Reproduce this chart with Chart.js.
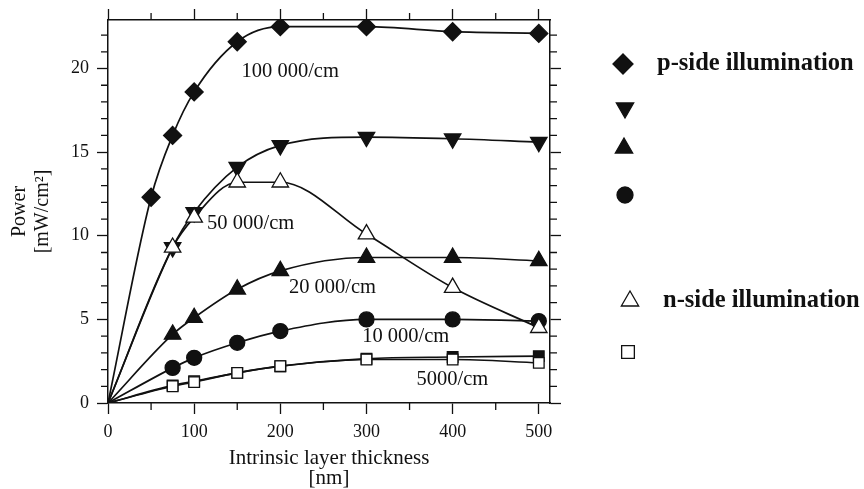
<!DOCTYPE html>
<html>
<head>
<meta charset="utf-8">
<script src="https://cdn.jsdelivr.net/npm/chart.js@4"></script>
<style>
  html, body { margin: 0; padding: 0; background: #fff; }
  canvas { display: block; }
</style>
</head>
<body>
<canvas id="chart" width="864" height="489"></canvas>
<script>
'use strict';
        // толщина i-слоя, нм
        const thickWide = [0, 50, 75, 100, 150, 200, 300, 400, 500];
        const thick = [0, 75, 100, 150, 200, 300, 400, 500];

        // p-side illumination
        const p100k = [0, 12.3, 16.0, 18.6, 21.6, 22.5, 22.5, 22.2, 22.1];
        const p50k = [0, 9.3, 11.4, 14.1, 15.4, 15.9, 15.8, 15.6];
        const p20k = [0, 4.1, 5.1, 6.8, 7.9, 8.7, 8.7, 8.5];
        const p10k = [0, 2.1, 2.7, 3.6, 4.3, 5.0, 5.0, 4.9];
        const p5k = [0, 1.05, 1.3, 1.8, 2.2, 2.65, 2.75, 2.8];

        // n-side illumination
        const n50k = [0, 9.3, 11.1, 13.2, 13.2, 10.1, 6.9, 4.5];
        const n5k = [0, 1.0, 1.25, 1.8, 2.2, 2.6, 2.6, 2.4];

        const xTicks = [0, 100, 200, 300, 400, 500];
        const yTicks = [0, 5, 10, 15, 20];
        const xMinor = [50, 150, 250, 350, 450];
        const yMinor = [1, 2, 3, 4, 6, 7, 8, 9, 11, 12, 13, 14, 16, 17, 18, 19, 21, 22];

        const legendLabels = ['p-side illumination', '', '', '', 'n-side illumination', ''];
        const curveLabels = ['100 000/cm', '50 000/cm', '20 000/cm', '10 000/cm', '5000/cm'];
        const curveLabelPos = [[155, 19.8], [115, 10.7], [210, 6.9], [295, 3.95], [358, 1.4]];

        const SERIF = '"Liberation Serif", "DejaVu Serif", serif';
        const INK = '#111';

        const pts = (xs, ys) => xs.map((x, i) => ({ x: x, y: ys[i] }));
        const hideFirst = r => (ctx => ctx.dataIndex === 0 ? 0 : r);

        function series(xs, ys, style, r, fill, rot, order) {
            return {
                data: pts(xs, ys),
                borderColor: INK,
                borderWidth: 1.7,
                pointStyle: style,
                pointRadius: hideFirst(r),
                pointHoverRadius: hideFirst(r),
                pointRotation: rot,
                pointBackgroundColor: fill,
                pointBorderColor: INK,
                pointBorderWidth: 1.3,
                cubicInterpolationMode: 'monotone',
                fill: false,
                order: order
            };
        }

        const datasets = [
            series(thickWide, p100k, 'rectRot', 9, INK, 0, 5),
            series(thick, p50k, 'triangle', 9.5, INK, 180, 6),
            series(thick, p20k, 'triangle', 9.5, INK, 0, 4),
            series(thick, p10k, 'circle', 7.5, INK, 0, 3),
            series(thick, n50k, 'triangle', 9.5, '#fff', 0, 1),
            series(thick, n5k, 'rect', 7.5, '#fff', 0, 2),
            series(thick, p5k, 'rect', 7.5, INK, 0, 7)
        ];

        // малые деления на всех четырёх осях
        const minorTicks = {
            id: 'minorTicks',
            afterDraw(chart) {
                const c = chart.ctx, a = chart.chartArea, s = chart.scales;
                const len = 7;
                c.save();
                c.strokeStyle = INK;
                c.lineWidth = 1.3;
                c.beginPath();
                xMinor.forEach(v => {
                    const px = s.x.getPixelForValue(v);
                    c.moveTo(px, a.bottom); c.lineTo(px, a.bottom + len);
                    c.moveTo(px, a.top); c.lineTo(px, a.top - len);
                });
                yMinor.forEach(v => {
                    const py = s.y.getPixelForValue(v);
                    c.moveTo(a.left, py); c.lineTo(a.left - len, py);
                    c.moveTo(a.right, py); c.lineTo(a.right + len, py);
                });
                c.stroke();
                c.restore();
            }
        };

        // подписи кривых
        const curveText = {
            id: 'curveText',
            afterDatasetsDraw(chart) {
                const c = chart.ctx, s = chart.scales;
                c.save();
                c.fillStyle = INK;
                c.font = '20.5px ' + SERIF;
                c.textBaseline = 'middle';
                c.textAlign = 'left';
                curveLabels.forEach((t, i) => {
                    const p = curveLabelPos[i];
                    c.fillText(t, s.x.getPixelForValue(p[0]), s.y.getPixelForValue(p[1]));
                });
                c.restore();
            }
        };

        // легенда справа
        const sideLegend = {
            id: 'sideLegend',
            afterDraw(chart) {
                const c = chart.ctx;
                const rows = [
                    { ds: 0, x: 623, y: 64, r: 10, tx: 657 },
                    { ds: 1, x: 625, y: 108, r: 10, tx: 657 },
                    { ds: 2, x: 624, y: 148, r: 10, tx: 657 },
                    { ds: 3, x: 625, y: 195, r: 8, tx: 657 },
                    { ds: 4, x: 630, y: 301, r: 10, tx: 663 },
                    { ds: 5, x: 628, y: 352, r: 9, tx: 663 }
                ];
                c.save();
                rows.forEach((r, i) => {
                    const d = datasets[r.ds];
                    c.fillStyle = d.pointBackgroundColor;
                    c.strokeStyle = INK;
                    c.lineWidth = 1.3;
                    Chart.helpers.drawPoint(c, {
                        pointStyle: d.pointStyle,
                        radius: r.r,
                        rotation: d.pointRotation,
                        borderWidth: 1.3
                    }, r.x, r.y);
                    if (legendLabels[i]) {
                        c.fillStyle = INK;
                        c.font = 'bold 24.5px ' + SERIF;
                        c.textBaseline = 'middle';
                        c.textAlign = 'left';
                        c.fillText(legendLabels[i], r.tx, r.y);
                    }
                });
                c.restore();
            }
        };

        const axisGrid = {
            display: true,
            drawOnChartArea: false,
            drawTicks: true,
            tickLength: 11,
            tickColor: INK,
            tickWidth: 1.3
        };
        const axisBorder = { display: true, color: INK, width: 1.5 };
        const tickFont = { family: SERIF, size: 18 };

        new Chart(document.getElementById('chart').getContext('2d'), {
            type: 'line',
            data: { datasets: datasets },
            plugins: [minorTicks, curveText, sideLegend],
            options: {
                responsive: false,
                devicePixelRatio: 1,
                animation: false,
                layout: { padding: 0 },
                plugins: {
                    legend: { display: false },
                    tooltip: { enabled: false }
                },
                scales: {
                    x: {
                        type: 'linear',
                        position: 'bottom',
                        min: 0,
                        max: 513,
                        afterBuildTicks: s => { s.ticks = xTicks.map(v => ({ value: v })); },
                        afterFit: s => { s.height = 86; },
                        ticks: { color: INK, font: tickFont, padding: 7, maxRotation: 0 },
                        grid: axisGrid,
                        border: axisBorder,
                        title: {
                            display: true,
                            text: ['Intrinsic layer thickness', '[nm]'],
                            color: INK,
                            font: { family: SERIF, size: 21, lineHeight: 0.95 },
                            padding: { top: 0, bottom: 1 }
                        }
                    },
                    x2: {
                        type: 'linear',
                        position: 'top',
                        min: 0,
                        max: 513,
                        afterBuildTicks: s => { s.ticks = xTicks.map(v => ({ value: v })); },
                        afterFit: s => { s.height = 20; },
                        ticks: { display: false },
                        grid: axisGrid,
                        border: axisBorder
                    },
                    y: {
                        type: 'linear',
                        position: 'left',
                        min: 0,
                        max: 22.9,
                        afterBuildTicks: s => { s.ticks = yTicks.map(v => ({ value: v })); },
                        afterFit: s => { s.width = 108; },
                        ticks: { color: INK, font: tickFont, padding: 8 },
                        grid: axisGrid,
                        border: axisBorder,
                        title: {
                            display: true,
                            text: ['Power', '[mW/cm²]'],
                            color: INK,
                            font: { family: SERIF, size: 20, lineHeight: 1.15 },
                            padding: { top: 8.5, bottom: 0 }
                        }
                    },
                    y2: {
                        type: 'linear',
                        position: 'right',
                        min: 0,
                        max: 22.9,
                        afterBuildTicks: s => { s.ticks = yTicks.map(v => ({ value: v })); },
                        afterFit: s => { s.width = 314; },
                        ticks: { display: false },
                        grid: axisGrid,
                        border: axisBorder
                    }
                }
            }
        });
</script>
</body>
</html>
